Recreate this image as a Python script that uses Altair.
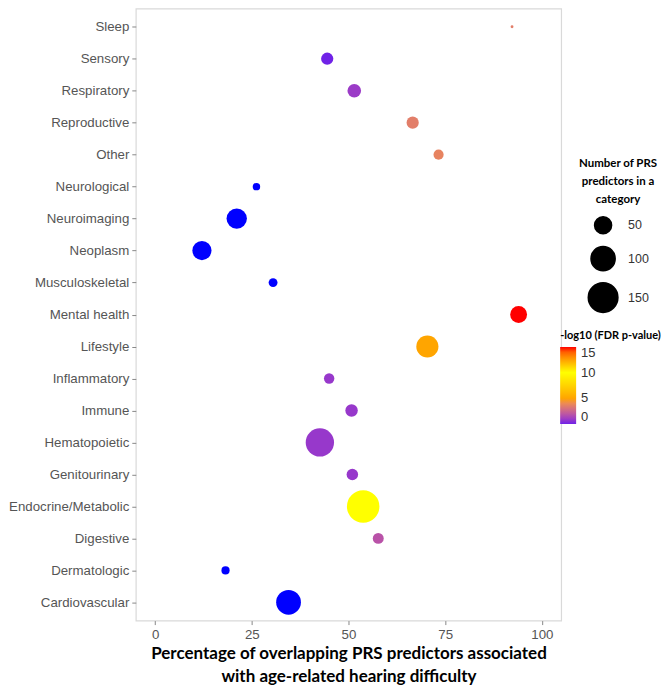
import altair as alt
import pandas as pd

categories = ["Sleep", "Sensory", "Respiratory", "Reproductive", "Other",
              "Neurological", "Neuroimaging", "Neoplasm", "Musculoskeletal",
              "Mental health", "Lifestyle", "Inflammatory", "Immune",
              "Hematopoietic", "Genitourinary", "Endocrine/Metabolic",
              "Digestive", "Dermatologic", "Cardiovascular"]
pct_overlap = [92.3, 44.5, 51.5, 66.6, 73.3, 26.2, 21.1, 12.1, 30.5, 94.0,
               70.4, 45.0, 50.8, 42.6, 51.0, 53.8, 57.7, 18.2, 34.5]
n_predictors = [2, 26, 32, 26, 18, 10, 71, 63, 14, 49, 84, 19, 27, 137, 23,
                180, 21, 12, 105]
neg_log10_fdr = [3.5, 0.0, 0.9, 3.5, 3.7, None, None, None, None, 15.0, 5.0,
                 0.8, 0.8, 0.8, 0.8, 10.0, 1.8, None, None]

df = pd.DataFrame({"category": categories, "pct": pct_overlap,
                   "n": n_predictors, "fdr": neg_log10_fdr})

x_enc = alt.X("pct:Q",
              scale=alt.Scale(domain=[-5, 105], nice=False, zero=False),
              axis=alt.Axis(values=[0, 25, 50, 75, 100], grid=False, domain=False,
                            tickColor="#888888", tickSize=4, labelPadding=3,
                            title=["Percentage of overlapping PRS predictors associated",
                                   "with age-related hearing difficulty"],
                            titleFont="Lato", titleFontSize=17, titleFontWeight="bold",
                            titleColor="black", titleLineHeight=23, titlePadding=5))
y_enc = alt.Y("category:N", sort=categories,
              scale=alt.Scale(type="point", padding=0.57),
              axis=alt.Axis(grid=False, domain=False, title=None,
                            tickColor="#888888", tickSize=4, labelPadding=3))
size_scale = alt.Scale(type="linear", domain=[1, 180], range=[2.3, 1058], zero=False)

base = alt.Chart(df)

sig_layer = base.transform_filter("isValid(datum.fdr)").mark_circle(opacity=1).encode(
    x=x_enc, y=y_enc,
    size=alt.Size("n:Q", scale=size_scale,
                  legend=alt.Legend(title=["Number of PRS", "predictors in a", "category"],
                                    values=[50, 100, 150], orient="none",
                                    legendX=444, legendY=150,
                                    symbolFillColor="black", symbolStrokeColor="black",
                                    symbolOpacity=1, titleAlign="center",
                                    titleAnchor="middle", titleLineHeight=18,
                                    labelOffset=9, rowPadding=5, titlePadding=10,
                                    labelFontSize=12.5)),
    color=alt.Color("fdr:Q",
                    scale=alt.Scale(domain=[0, 5, 10, 15],
                                    range=["#7022e7", "#ffa500", "#ffff00", "#ff0000"],
                                    interpolate="lab"),
                    legend=alt.Legend(title="-log10 (FDR p-value)", values=[0, 5, 10, 15],
                                      orient="none", legendX=425, legendY=322,
                                      direction="vertical", gradientLength=77,
                                      gradientThickness=16, titlePadding=6,
                                      gradientStrokeWidth=0, labelFontSize=13,
                                      labelOverlap=False, labelOffset=5,
                                      titleFontSize=11)))

ns_layer = base.transform_filter("!isValid(datum.fdr)").mark_circle(opacity=1).encode(
    x=x_enc, y=y_enc,
    size=alt.Size("n:Q", scale=size_scale, legend=None),
    color=alt.value("#0000ff"))

chart = alt.layer(sig_layer, ns_layer).resolve_scale(size="shared").resolve_legend(
    size="independent").properties(
    width=426, height=613, padding=0
).configure_view(stroke="#d9d9d9", strokeWidth=1.2).configure_axis(
    labelFont="Liberation Sans", labelFontSize=13.3, labelColor="#555555"
).configure_legend(
    titleFont="Lato", titleFontSize=11.5, titleFontWeight="bold", titleColor="black",
    labelFont="Liberation Sans", labelFontSize=12, labelColor="#333333"
)

chart.save("out.html", embed_options={"renderer": "svg", "actions": False})
